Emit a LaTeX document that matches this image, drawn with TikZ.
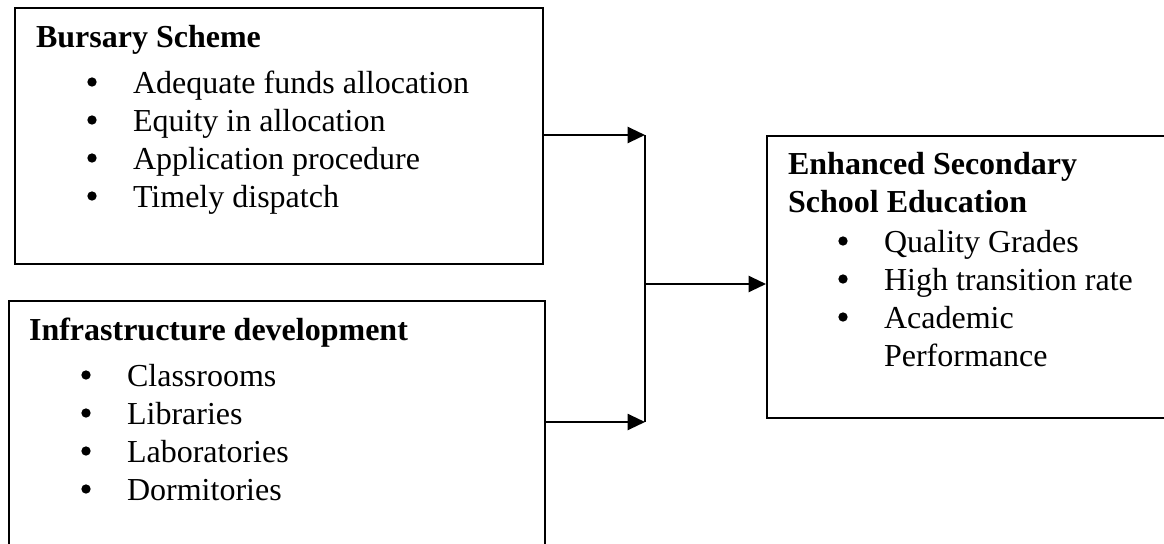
\documentclass[tikz,border=0pt]{standalone}
\usepackage{fontspec}
\setmainfont{Liberation Serif}
\usetikzlibrary{arrows.meta}
\begin{document}
\begin{tikzpicture}[x=0.75pt,y=-0.75pt,>={Triangle[length=13pt,width=12pt]},line width=1.6pt,
  txt/.style={anchor=base west,inner sep=0pt,font=\fontsize{24}{28.5}\selectfont},
  head/.style={txt,font=\fontsize{24}{28.5}\selectfont\bfseries},
  bul/.style={circle,fill,inner sep=0pt,minimum size=7pt},
  box/.style={draw,rectangle,inner sep=0pt,anchor=north west}]
\useasboundingbox (0,0) rectangle (1164,543);
\node[box,minimum width=396pt,minimum height=192pt] (bursary) at (14,7) {};
\node[box,minimum width=402pt,minimum height=195pt] (infra) at (8,300) {};
\node[box,minimum width=307pt,minimum height=211.5pt] (outcome) at (766,135) {};
% Bursary box
\node[head] (bhead) at (35,47) {Bursary Scheme};
\foreach \t [count=\i] in {Adequate funds allocation,Equity in allocation,Application procedure,Timely dispatch}{
  \node[bul] (bdot\i) at (92,44+38*\i) {};
  \node[txt] (bitem\i) at (132,55+38*\i) {\t};
}
% Infrastructure box
\node[head] (ihead) at (28,340) {Infrastructure development};
\foreach \t [count=\i] in {Classrooms,Libraries,Laboratories,Dormitories}{
  \node[bul] (idot\i) at (86,337+38*\i) {};
  \node[txt] (iitem\i) at (126,348+38*\i) {\t};
}
% Outcome box
\node[head] (ohead1) at (787,174) {Enhanced Secondary};
\node[head] (ohead2) at (787,212) {School Education};
\foreach \t [count=\i] in {Quality Grades,High transition rate,Academic}{
  \node[bul] (odot\i) at (843,203+38*\i) {};
  \node[txt] (oitem\i) at (883,214+38*\i) {\t};
}
\node[txt] (oitem4) at (883,366) {Performance};
% connectors
\coordinate (jtop) at (645,135);
\coordinate (jmid) at (645,284);
\coordinate (jbot) at (645,422);
\draw[->] (bursary.east |- jtop) -- (jtop);
\draw[->] (infra.east |- jbot) -- (jbot);
\draw (jtop) -- (jbot);
\draw[->] (jmid) -- (outcome.west |- jmid);
\end{tikzpicture}
\end{document}
